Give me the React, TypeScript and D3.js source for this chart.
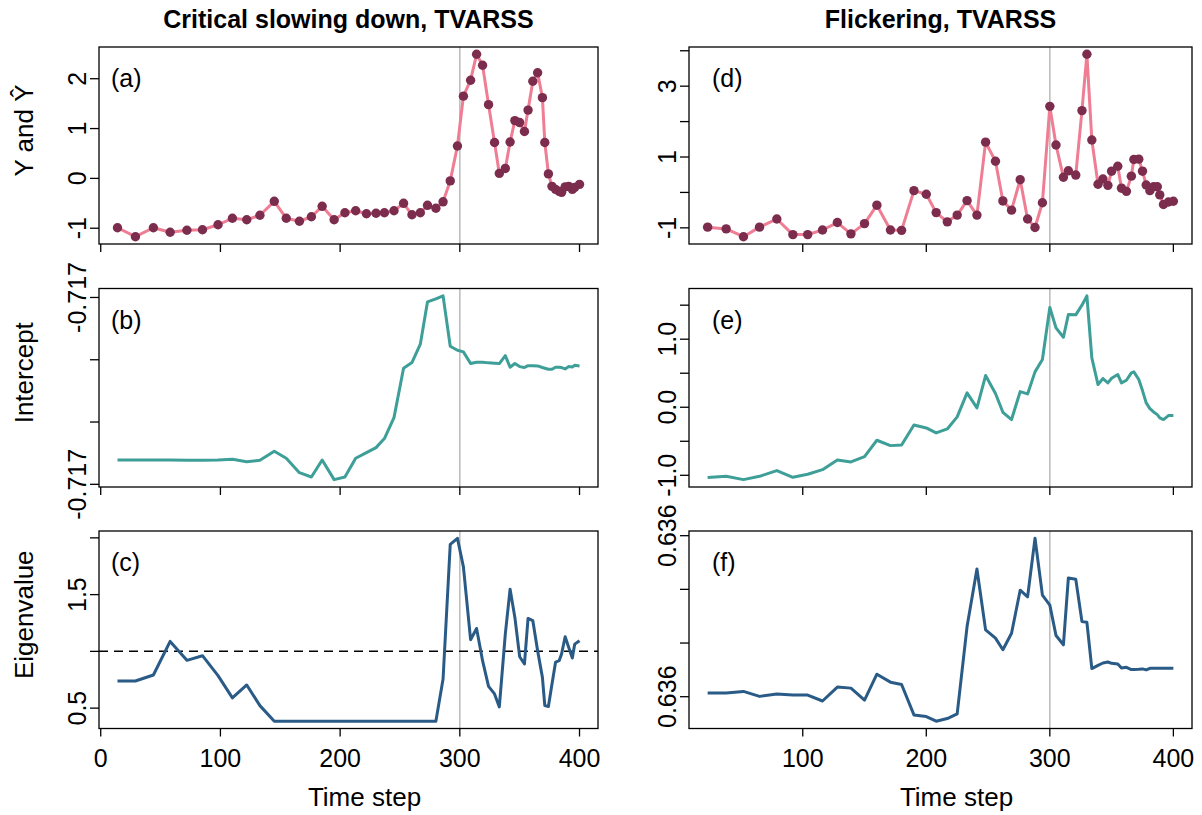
import React from "react";
import * as d3 from "d3";

// ---- Critical slowing down series (left column) ----
const timeCSD = [14, 29, 44, 58, 72, 85, 98, 110, 122, 133, 145, 155, 166, 176, 185, 195, 204, 213, 222, 230, 237, 245, 253, 260, 267, 273, 280, 286, 292, 298, 303, 309, 314, 319, 324, 329, 333, 338, 342, 346, 350, 354, 357, 361, 365, 369, 371, 374, 377, 380, 383, 385, 388, 391, 394, 396, 400];
const yCSD = [-0.99, -1.17, -0.99, -1.08, -1.04, -1.03, -0.93, -0.8, -0.83, -0.74, -0.46, -0.8, -0.86, -0.77, -0.56, -0.83, -0.69, -0.65, -0.71, -0.7, -0.69, -0.65, -0.5, -0.73, -0.69, -0.54, -0.6, -0.47, -0.05, 0.65, 1.65, 1.97, 2.49, 2.27, 1.48, 0.72, 0.1, 0.2, 0.73, 1.16, 1.12, 0.94, 1.37, 1.95, 2.12, 1.62, 0.72, 0.09, -0.16, -0.22, -0.26, -0.28, -0.17, -0.16, -0.22, -0.18, -0.12];
const interceptCSD = [-0.71705218, -0.71705218, -0.71705218, -0.71705222, -0.71705228, -0.71705228, -0.71705218, -0.71705196, -0.71705272, -0.71705228, -0.7170494, -0.71705164, -0.71705626, -0.71705764, -0.71705218, -0.7170585, -0.71705764, -0.71705164, -0.71704982, -0.71704822, -0.71704532, -0.71703858, -0.71702272, -0.7170209, -0.717015, -0.7170014, -0.71700044, -0.71699948, -0.71701566, -0.71701694, -0.71701748, -0.71702122, -0.7170208, -0.7170208, -0.717021, -0.71702112, -0.71702122, -0.71701866, -0.7170224, -0.71702122, -0.7170222, -0.7170225, -0.7170219, -0.7170219, -0.71702198, -0.7170225, -0.71702272, -0.71702304, -0.71702304, -0.7170224, -0.7170224, -0.7170225, -0.71702294, -0.7170222, -0.7170223, -0.71702176, -0.71702198];
const eigenCSD = [0.739, 0.739, 0.792, 1.088, 0.921, 0.962, 0.786, 0.59, 0.704, 0.522, 0.385, 0.385, 0.385, 0.385, 0.385, 0.385, 0.385, 0.385, 0.385, 0.385, 0.385, 0.385, 0.385, 0.385, 0.385, 0.385, 0.385, 0.757, 1.943, 1.996, 1.744, 1.103, 1.202, 0.918, 0.692, 0.625, 0.511, 1.152, 1.548, 1.299, 0.953, 0.889, 1.29, 1.27, 1.006, 0.771, 0.522, 0.514, 0.713, 0.906, 0.918, 0.977, 1.129, 1.035, 0.941, 1.064, 1.094];

// ---- Flickering series (right column) ----
const timeFlk = [23, 38, 52, 65, 79, 92, 104, 116, 128, 139, 150, 160, 171, 180, 190, 200, 208, 217, 225, 233, 241, 248, 256, 262, 269, 276, 282, 288, 294, 300, 305, 311, 315, 321, 326, 330, 334, 339, 343, 347, 350, 355, 358, 362, 366, 368, 372, 375, 378, 381, 384, 387, 389, 392, 396, 400];
const yFlk = [-0.98, -1.03, -1.25, -0.98, -0.75, -1.19, -1.19, -1.06, -0.85, -1.17, -0.88, -0.36, -1.06, -1.07, 0.05, -0.05, -0.57, -0.83, -0.64, -0.23, -0.64, 1.42, 0.88, -0.24, -0.5, 0.36, -0.75, -0.99, -0.29, 2.43, 1.34, 0.43, 0.61, 0.49, 2.31, 3.9, 1.48, 0.23, 0.38, 0.2, 0.6, 0.74, 0.12, 0.03, 0.46, 0.93, 0.94, 0.6, 0.21, 0.05, 0.16, 0.16, -0.07, -0.34, -0.27, -0.25];
const interceptFlk = [-1.034, -1.015, -1.064, -1.015, -0.931, -1.029, -0.985, -0.917, -0.775, -0.804, -0.725, -0.485, -0.564, -0.554, -0.26, -0.304, -0.377, -0.319, -0.142, 0.211, -0.01, 0.466, 0.201, -0.074, -0.181, 0.23, 0.196, 0.52, 0.701, 1.466, 1.167, 1.029, 1.363, 1.358, 1.5, 1.637, 0.725, 0.333, 0.422, 0.358, 0.426, 0.48, 0.358, 0.397, 0.505, 0.52, 0.407, 0.245, 0.064, -0.02, -0.069, -0.108, -0.157, -0.181, -0.123, -0.123];
const eigenFlk = [0.63600068, 0.63600068, 0.63600099, 0.63600006, 0.63600049, 0.63600031, 0.63600031, 0.6359992, 0.63600179, 0.6360016, 0.63599938, 0.63600419, 0.63600271, 0.63600228, 0.63599661, 0.6359963, 0.63599544, 0.63599593, 0.6359968, 0.63601306, 0.63602378, 0.63601245, 0.63601091, 0.63600875, 0.63601183, 0.63601984, 0.63601861, 0.63602951, 0.63601892, 0.63601707, 0.6360114, 0.63600967, 0.63602212, 0.63602187, 0.63601399, 0.63601386, 0.63600524, 0.63600585, 0.63600628, 0.63600647, 0.63600622, 0.6360061, 0.63600536, 0.63600548, 0.63600505, 0.63600505, 0.63600511, 0.63600518, 0.63600499, 0.6360053, 0.6360053, 0.6360053, 0.6360053, 0.6360053, 0.6360053, 0.6360053];

// ---- Axis ticks and labels ----
const xTicksCSD = [0, 100, 200, 300, 400];
const xTicksFlk = [100, 200, 300, 400];
const yTicksA = [-1, 0, 1, 2];
const yLabelsA = ["-1", "0", "1", "2"];
const yTicksB = [-0.71706, -0.71704, -0.71702, -0.717];
const yLabelsB = ["-0.717", "", "", "-0.717"];
const yTicksC = [0.5, 1.0, 1.5, 2.0];
const yLabelsC = ["0.5", "", "1.5", ""];
const yTicksD = [-1, 0, 1, 2, 3, 4];
const yLabelsD = ["-1", "", "1", "", "3", ""];
const yTicksE = [-1, -0.5, 0, 0.5, 1, 1.5];
const yLabelsE = ["-1.0", "", "0.0", "", "1.0", ""];
const yTicksF = [0.636, 0.63601, 0.63602, 0.63603];
const yLabelsF = ["0.636", "", "", "0.636"];

const columnTitles = ["Critical slowing down, TVARSS", "Flickering, TVARSS"];
const rowTitles = ["Y and Ŷ", "Intercept", "Eigenvalue"];
const xTitle = "Time step";
const transitionTime = 300;
const eigenThreshold = 1;

const FONT = "'Liberation Sans', Arial, Helvetica, sans-serif";
const PINK = "#EF7D94";
const MAROON = "#7C2D4E";
const TEAL = "#3E9E98";
const BLUE = "#2A5B87";

const COLS = [
  { left: 99, right: 598 },
  { left: 689, right: 1192 },
];
const ROWS = [
  { top: 47, bottom: 244 },
  { top: 288.5, bottom: 487 },
  { top: 531, bottom: 728.5 },
];

// R-style axis range: data extent padded by 4% on both sides
function padded(vals: number[]): [number, number] {
  const [lo, hi] = d3.extent(vals) as [number, number];
  const r = hi - lo;
  return [lo - 0.04 * r, hi + 0.04 * r];
}

type PanelProps = {
  col: number;
  row: number;
  times: number[];
  values: number[];
  color: string;
  points?: boolean;
  yTicks: number[];
  yLabels: string[];
  xTicks: number[];
  showXLabels: boolean;
  tag: string;
  hline?: number;
};

function Panel(p: PanelProps) {
  const { left, right } = COLS[p.col];
  const { top, bottom } = ROWS[p.row];
  const x = d3.scaleLinear().domain(padded(p.times)).range([left, right]);
  const y = d3.scaleLinear().domain(padded(p.values)).range([bottom, top]);
  const pts = p.times.map((t, i) => [t, p.values[i]] as [number, number]);
  const line = d3
    .line<[number, number]>()
    .x((d) => x(d[0]))
    .y((d) => y(d[1]));
  const tagX = p.col === 0 ? left + 12 : left + 23;
  return (
    <g>
      <line x1={x(transitionTime)} x2={x(transitionTime)} y1={top} y2={bottom} stroke="#BEBEBE" strokeWidth={1.6} />
      {p.hline !== undefined && (
        <line x1={left} x2={right} y1={y(p.hline)} y2={y(p.hline)} stroke="#000" strokeWidth={1.5} strokeDasharray="9,6" />
      )}
      <path d={line(pts) || ""} fill="none" stroke={p.color} strokeWidth={3} strokeLinejoin="round" />
      {p.points &&
        pts.map((d, i) => <circle key={i} cx={x(d[0])} cy={y(d[1])} r={4.7} fill={MAROON} />)}
      <rect x={left} y={top} width={right - left} height={bottom - top} fill="none" stroke="#000" strokeWidth={1.3} />
      {p.yTicks.map((t, i) => (
        <g key={"y" + i}>
          <line x1={left - 9} x2={left} y1={y(t)} y2={y(t)} stroke="#000" strokeWidth={1.3} />
          {p.yLabels[i] && (
            <text
              transform={`translate(${left - 13},${y(t)}) rotate(-90)`}
              textAnchor="middle"
              fontSize={25}
              fontFamily={FONT}
              fill="#000"
            >
              {p.yLabels[i]}
            </text>
          )}
        </g>
      ))}
      {p.xTicks.map((t, i) => (
        <g key={"x" + i}>
          <line x1={x(t)} x2={x(t)} y1={bottom} y2={bottom + 8} stroke="#000" strokeWidth={1.3} />
          {p.showXLabels && (
            <text x={x(t)} y={767} textAnchor="middle" fontSize={25} fontFamily={FONT} fill="#000">
              {t}
            </text>
          )}
        </g>
      ))}
      <text x={tagX} y={top + 40} fontSize={25} fontFamily={FONT} fill="#000">
        {p.tag}
      </text>
    </g>
  );
}

export default function App() {
  const colCenter = (c: number) => (COLS[c].left + COLS[c].right) / 2;
  const rowCenter = (r: number) => (ROWS[r].top + ROWS[r].bottom) / 2;
  return (
    <svg
      width={1202}
      height={815}
      viewBox="0 0 1202 815"
      style={{ position: "absolute", left: 0, top: 0, background: "#fff" }}
    >
      <rect x={0} y={0} width={1202} height={815} fill="#fff" />
      {columnTitles.map((t, c) => (
        <text key={t} x={colCenter(c)} y={28} textAnchor="middle" fontSize={25} fontWeight="bold" fontFamily={FONT}>
          {t}
        </text>
      ))}
      {rowTitles.map((t, r) => (
        <text
          key={t}
          transform={`translate(33,${rowCenter(r) - 15}) rotate(-90)`}
          textAnchor="middle"
          fontSize={26}
          fontFamily={FONT}
        >
          {t}
        </text>
      ))}
      {[0, 1].map((c) => (
        <text key={"xt" + c} x={colCenter(c) + 16} y={806} textAnchor="middle" fontSize={26} fontFamily={FONT}>
          {xTitle}
        </text>
      ))}

      <Panel col={0} row={0} times={timeCSD} values={yCSD} color={PINK} points yTicks={yTicksA} yLabels={yLabelsA} xTicks={xTicksCSD} showXLabels={false} tag="(a)" />
      <Panel col={0} row={1} times={timeCSD} values={interceptCSD} color={TEAL} yTicks={yTicksB} yLabels={yLabelsB} xTicks={xTicksCSD} showXLabels={false} tag="(b)" />
      <Panel col={0} row={2} times={timeCSD} values={eigenCSD} color={BLUE} yTicks={yTicksC} yLabels={yLabelsC} xTicks={xTicksCSD} showXLabels={true} tag="(c)" hline={eigenThreshold} />

      <Panel col={1} row={0} times={timeFlk} values={yFlk} color={PINK} points yTicks={yTicksD} yLabels={yLabelsD} xTicks={xTicksFlk} showXLabels={false} tag="(d)" />
      <Panel col={1} row={1} times={timeFlk} values={interceptFlk} color={TEAL} yTicks={yTicksE} yLabels={yLabelsE} xTicks={xTicksFlk} showXLabels={false} tag="(e)" />
      <Panel col={1} row={2} times={timeFlk} values={eigenFlk} color={BLUE} yTicks={yTicksF} yLabels={yLabelsF} xTicks={xTicksFlk} showXLabels={true} tag="(f)" />
    </svg>
  );
}
